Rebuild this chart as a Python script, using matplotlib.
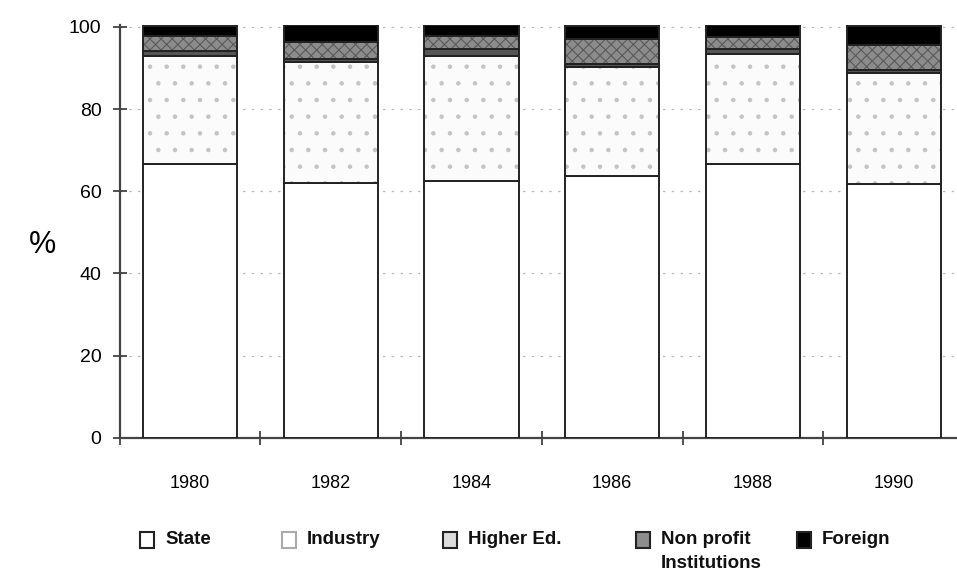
import numpy as np
import matplotlib.pyplot as plt
from matplotlib.patches import Rectangle

# Shares of R&D funding by source (%)
years = ['1980', '1982', '1984', '1986', '1988', '1990']
state = [66.6, 62.0, 62.5, 63.7, 66.6, 61.7]
industry = [26.4, 29.5, 30.5, 26.6, 26.9, 27.1]
higher_ed = [1.2, 0.7, 1.7, 0.7, 1.2, 0.7]
non_profit = [3.6, 4.1, 3.1, 6.1, 2.9, 6.1]
foreign = [2.4, 4.1, 2.7, 3.1, 2.9, 4.6]

# name, values, bar fill, hatch, hatch colour, legend fill
series = [
    ('State', state, 'white', None, None, 'white'),
    ('Industry', industry, '#fbfbfb', '.', '#c4c4c4', 'white'),
    ('Higher Ed.', higher_ed, '#555555', None, None, '#dcdcdc'),
    ('Non profit\nInstitutions', non_profit, '#8c8c8c', 'xxx', '#5a5a5a', '#8c8c8c'),
    ('Foreign', foreign, 'black', None, None, 'black'),
]

plt.rcParams['font.family'] = ['Liberation Sans Narrow', 'Liberation Sans', 'DejaVu Sans']
plt.rcParams['hatch.linewidth'] = 0.8

fig = plt.figure(figsize=(9.57, 5.76), dpi=100)
ax = fig.add_axes([0.125, 0.24, 0.875, 0.717])

x = np.arange(len(years))
bottom = np.zeros(len(years))
for name, vals, color, hatch, hcol, lcol in series:
    if hatch:
        # hatch colour follows the edge colour, so draw the texture first
        ax.bar(x, vals, width=0.67, bottom=bottom, color=color, edgecolor=hcol,
               linewidth=0, hatch=hatch, zorder=3)
        ax.bar(x, vals, width=0.67, bottom=bottom, fill=False, edgecolor='#222222',
               linewidth=1.4, zorder=4)
    else:
        ax.bar(x, vals, width=0.67, bottom=bottom, color=color, edgecolor='#222222',
               linewidth=1.4, zorder=3)
    bottom += np.array(vals)

ax.set_xlim(-0.5, 5.45)
ax.set_ylim(0, 100.5)
ax.set_yticks([0, 20, 40, 60, 80, 100])
ax.set_yticklabels(['0', '20', '40', '60', '80', '100'], family='Liberation Sans', fontsize=14)
ax.set_xticks(x)
ax.set_xticklabels(years, family='Liberation Sans', fontsize=13)
ax.set_xticks(np.arange(-0.5, 5.5, 1.0), minor=True)
ax.tick_params(axis='x', which='major', length=0, pad=27)
ax.tick_params(axis='x', which='minor', direction='inout', length=10, width=1.2, color='#333333')
ax.tick_params(axis='y', direction='inout', length=10, width=1.2, color='#333333', pad=8)
ax.yaxis.grid(True, linestyle=(0, (2, 5)), color='#bbbbbb', linewidth=0.9, zorder=0)

for side in ['top', 'right']:
    ax.spines[side].set_visible(False)
for side in ['left', 'bottom']:
    ax.spines[side].set_color('#444444')
    ax.spines[side].set_linewidth(1.6)

fig.text(0.03, 0.575, '%', fontsize=22, family='Liberation Sans', ha='left', va='center')

# legend drawn by hand so the box sits beside the first line of each label
leg_x = [140, 282, 443, 636, 797]
for (name, vals, color, hatch, hcol, lcol), lx in zip(series, leg_x):
    edge = '#aaaaaa' if name == 'Industry' else '#222222'
    fig.patches.append(Rectangle((lx / 957, 1 - 548 / 576), 14 / 957, 16 / 576,
                                 transform=fig.transFigure, facecolor=lcol,
                                 edgecolor=edge, linewidth=1.5))
    for i, line in enumerate(name.split('\n')):
        fig.text((lx + 25) / 957, 1 - (540 + 24 * i) / 576, line, fontsize=13.5,
                 fontweight='bold', ha='left', va='center', color='#111111')

fig.savefig('out.png', dpi=100)
